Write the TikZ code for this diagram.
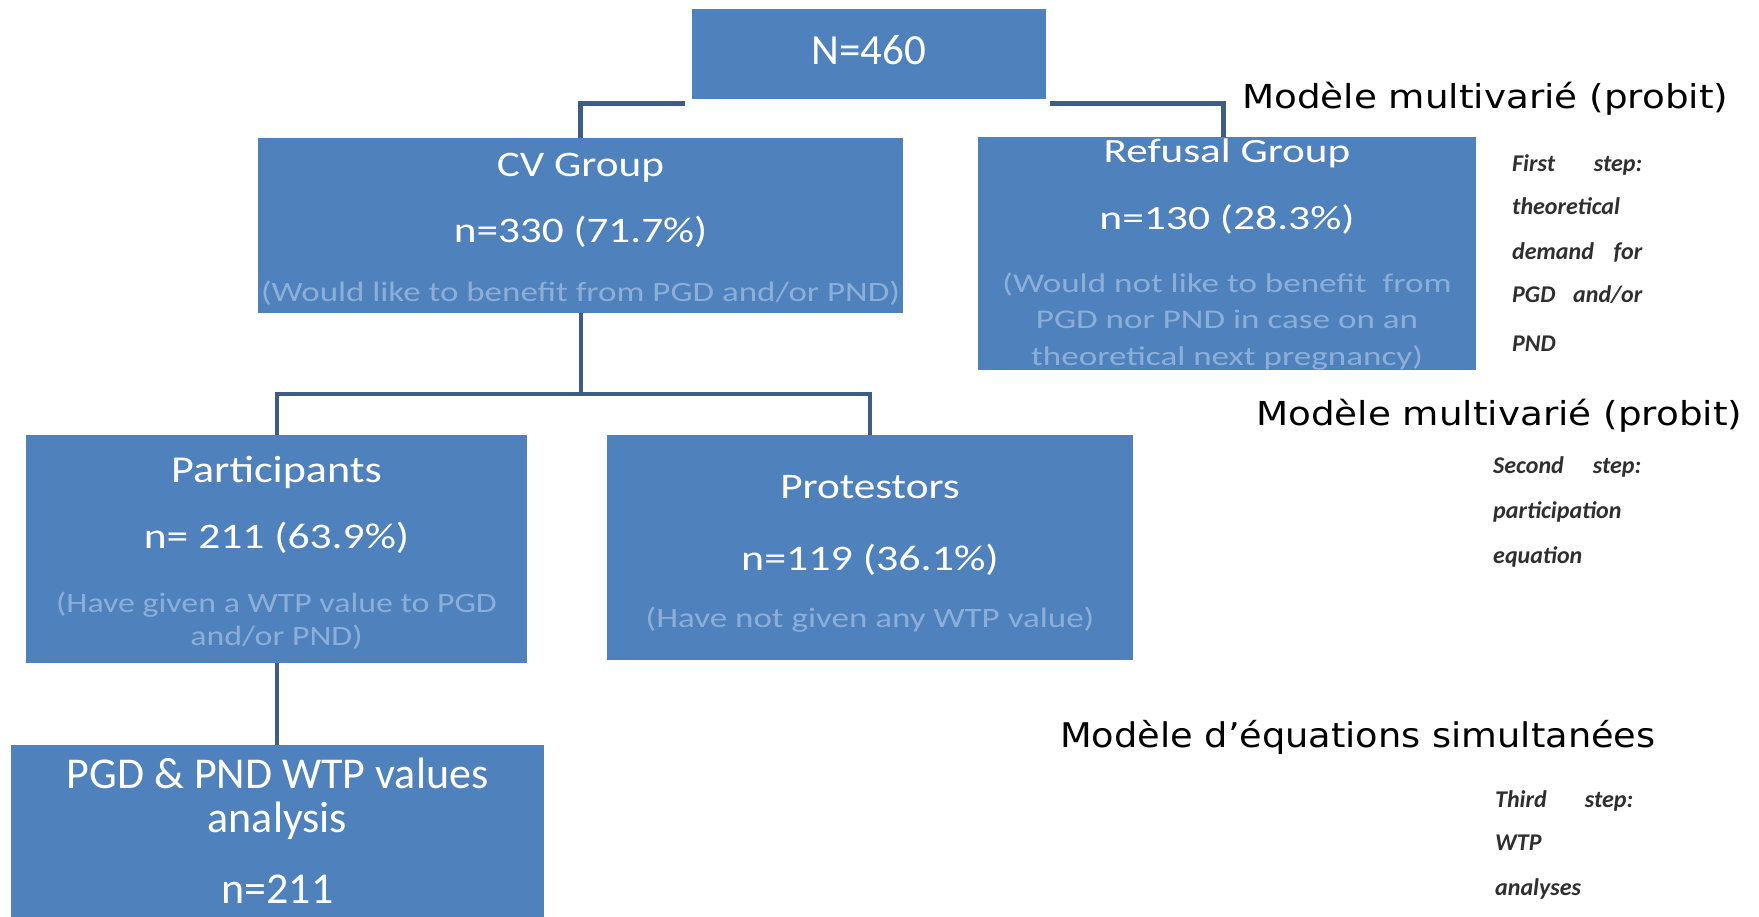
\documentclass[tikz,border=0pt]{standalone}
\usepackage{fontspec}
\usepackage{graphicx}
\setmainfont{Carlito}
\newfontfamily\verd{DejaVu Sans}
\definecolor{boxblue}{HTML}{4F81BD}
\definecolor{parencol}{HTML}{8CAFDA}
\definecolor{connc}{HTML}{3E5C86}
\definecolor{stepgray}{HTML}{2F2F2F}
\newcommand{\bxt}[3]{\fontsize{#1pt}{#1pt}\selectfont\scalebox{#2}[1]{#3}}
\begin{document}
\begin{tikzpicture}[x=1pt,y=-1pt,
  box/.style={fill=boxblue, draw=none, inner sep=0pt, rectangle},
  ttl/.style={anchor=base, text=white, inner sep=0pt},
  par/.style={anchor=base, text=parencol, inner sep=0pt},
  model/.style={anchor=base west, inner sep=0pt, text=black, font=\verd},
  steplbl/.style={anchor=base west, inner sep=0pt, text=stepgray, font=\bfseries\itshape\fontsize{24pt}{24pt}\selectfont},
  connthick/.style={draw=connc, line width=5pt},
  conn/.style={draw=connc, line width=4pt}]
\useasboundingbox[fill=white] (0,0) rectangle (1759,917);

% boxes
\node[box, minimum width=354pt, minimum height=90pt] (top) at (869,54) {};
\node[box, minimum width=645pt, minimum height=175pt] (cv) at (580.5,225.5) {};
\node[box, minimum width=498pt, minimum height=233pt] (ref) at (1227,253.5) {};
\node[box, minimum width=501pt, minimum height=228pt] (part) at (276.5,549) {};
\node[box, minimum width=526pt, minimum height=225pt] (prot) at (870,547.5) {};
\node[box, minimum width=533pt, minimum height=172pt] (pgd) at (277.5,831) {};

% connectors
\draw[connthick] (cv.north) |- ([xshift=-7pt,yshift=-4pt]top.south west);
\draw[connthick] ([xshift=4pt,yshift=-4pt]top.south east) -| ([xshift=-4pt]ref.north);
\coordinate (split) at ([yshift=-81pt]cv.south);
\draw[conn] (cv.south) -- (split);
\draw[conn] (part.north) |- (split) -| (prot.north);
\draw[conn] (part.south) -- (part.south |- pgd.north);

% texts in boxes
\node[ttl] (topA) at (869,65) {\bxt{43}{1}{N=460}};

\node[ttl] (cvA) at (580.5,177) {\bxt{36}{1.2}{CV Group}};
\node[ttl] (cvB) at (580.5,243) {\bxt{36}{1.2}{n=330 (71.7\%)}};
\node[par] (cvC) at (580.5,302) {\bxt{28}{1.25}{(Would like to benefit from PGD and/or PND)}};

\node[ttl] (refA) at (1227,163) {\bxt{34}{1.27}{Refusal Group}};
\node[ttl] (refB) at (1227,230) {\bxt{34}{1.28}{n=130 (28.3\%)}};
\node[par] (refC) at (1227,293) {\bxt{27}{1.3}{(Would not like to benefit~ from}};
\node[par] (refD) at (1227,328) {\bxt{27}{1.3}{PGD nor PND in case on an}};
\node[par] (refE) at (1227,365) {\bxt{27}{1.3}{theoretical next pregnancy)}};

\node[ttl] (partA) at (276.5,482) {\bxt{38}{1.16}{Participants}};
\node[ttl] (partB) at (276.5,548) {\bxt{36}{1.21}{n= 211 (63.9\%)}};
\node[par] (partC) at (276.5,612) {\bxt{28}{1.21}{(Have given a WTP value to PGD}};
\node[par] (partD) at (276.5,645) {\bxt{28}{1.21}{and/or PND)}};

\node[ttl] (protA) at (870,498) {\bxt{36}{1.2}{Protestors}};
\node[ttl] (protB) at (870,570) {\bxt{36}{1.22}{n=119 (36.1\%)}};
\node[par] (protC) at (870,627) {\bxt{28}{1.25}{(Have not given any WTP value)}};

\node[ttl] (pgdA) at (277.5,788) {\bxt{44}{1}{PGD \& PND WTP values}};
\node[ttl] (pgdB) at (277.5,832) {\bxt{44}{1}{analysis}};
\node[ttl] (pgdC) at (277.5,903) {\bxt{44}{1}{n=211}};

% model labels
\node[model] (m1) at (1242,109) {\bxt{33}{1.13}{Modèle multivarié (probit)}};
\node[model] (m2) at (1256,425) {\bxt{33}{1.13}{Modèle multivarié (probit)}};
\node[model] (m3) at (1060,747) {\bxt{34}{1.08}{Modèle d’équations simultanées}};

% step labels
\node[steplbl] (s1a) at (1512,172) {\hbox to 130pt{First\hfill step:}};
\node[steplbl] (s1b) at (1512,215) {theoretical};
\node[steplbl] (s1c) at (1512,260) {\hbox to 130pt{demand\hfill for}};
\node[steplbl] (s1d) at (1512,303) {\hbox to 130pt{PGD\hfill and/or}};
\node[steplbl] (s1e) at (1512,352) {PND};

\node[steplbl] (s2a) at (1493,473) {\hbox to 148pt{Second\hfill step:}};
\node[steplbl] (s2b) at (1493,518) {participation};
\node[steplbl] (s2c) at (1493,563) {equation};

\node[steplbl] (s3a) at (1495,807) {\hbox to 138pt{Third\hfill step:}};
\node[steplbl] (s3b) at (1495,850) {WTP};
\node[steplbl] (s3c) at (1495,895) {analyses};
\end{tikzpicture}
\end{document}
